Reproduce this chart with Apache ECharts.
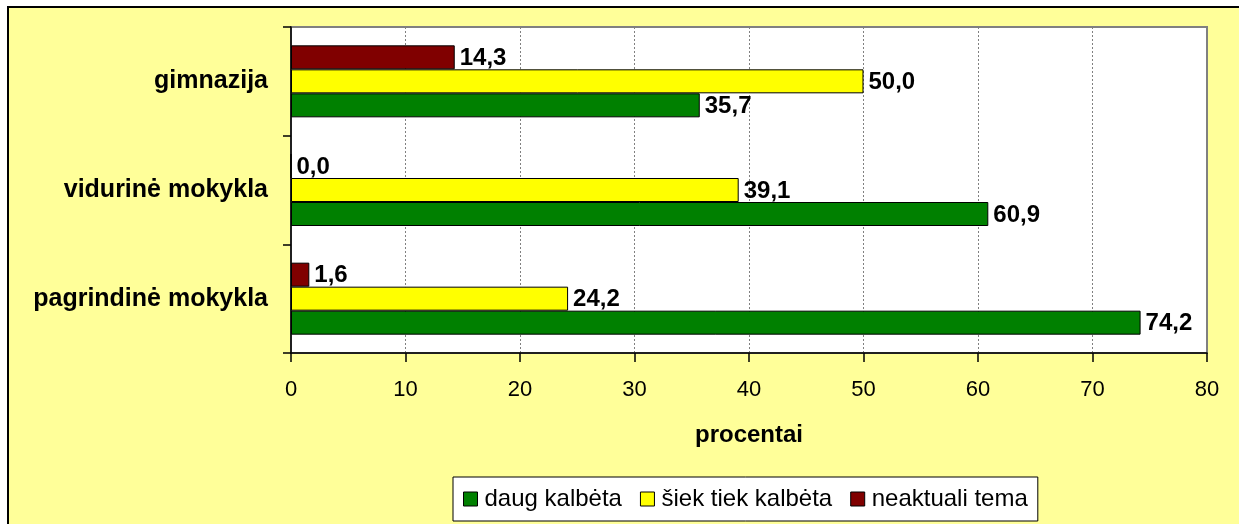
<!DOCTYPE html>
<html lang="lt">
<head>
    <meta charset="UTF-8">
    <title>procentai</title>
    <style>
        html, body { margin: 0; padding: 0; background: #fff; }
        #frame { position: absolute; left: 7px; top: 6px; width: 1250px; height: 540px;
                 border: 2px solid #000; background: #FFFF99; }
        #main { position: absolute; left: 0; top: 0; width: 1239px; height: 524px; }
    </style>
</head>
<body>
    <div id="frame"></div>
    <div id="main"></div>
    <script src="https://cdn.jsdelivr.net/npm/echarts@6/dist/echarts.min.js"></script>
    <script>
        // kategorijos (is apacios i virsu)
        var categories = ['pagrindinė mokykla', 'vidurinė mokykla', 'gimnazija'];
        var daugKalbeta = [74.2, 60.9, 35.7];
        var siekTiekKalbeta = [24.2, 39.1, 50.0];
        var neaktualiTema = [1.6, 0.0, 14.3];
        var xTicks = [0, 10, 20, 30, 40, 50, 60, 70, 80];

        var font = 'Arial, "Liberation Sans", sans-serif';

        function barLabel() {
            return {
                show: true,
                position: 'right',
                distance: 5,
                offset: [0, 1],
                color: '#000',
                fontFamily: font,
                fontWeight: 'bold',
                fontSize: 24,
                formatter: function (p) {
                    return p.value.toFixed(1).replace('.', ',');
                }
            };
        }

        var myChart = echarts.init(document.getElementById('main'));

        var option = {
            backgroundColor: 'transparent',
            animation: false,
            grid: {
                left: 291,
                top: 27,
                right: 32,
                bottom: 171,
                show: true,
                backgroundColor: '#fff',
                borderColor: '#808080',
                borderWidth: 2
            },
            legend: {
                left: 453,
                top: 477,
                orient: 'horizontal',
                backgroundColor: '#fff',
                borderColor: '#000',
                borderWidth: 1,
                borderRadius: 0,
                padding: [10, 10, 10, 10],
                itemGap: 18,
                itemWidth: 14,
                itemHeight: 14,
                itemStyle: { borderColor: '#000', borderWidth: 1 },
                textStyle: { fontFamily: font, fontSize: 24, color: '#000', padding: [0, 0, 0, 2] },
                data: [
                    { name: 'daug kalbėta', icon: 'rect' },
                    { name: 'šiek tiek kalbėta', icon: 'rect' },
                    { name: 'neaktuali tema', icon: 'rect' }
                ]
            },
            xAxis: {
                type: 'value',
                min: xTicks[0],
                max: xTicks[xTicks.length - 1],
                interval: 10,
                name: 'procentai',
                nameLocation: 'middle',
                nameGap: 70,
                nameTextStyle: { fontFamily: font, fontSize: 24, fontWeight: 'bold', color: '#000' },
                axisLine: { show: true, lineStyle: { color: '#000', width: 1.5 } },
                axisTick: { show: true, length: 9, lineStyle: { color: '#000', width: 1.5 } },
                axisLabel: { fontFamily: font, fontSize: 22, color: '#000', margin: 26 },
                splitLine: { show: true, lineStyle: { color: '#808080', type: [2, 2], width: 1 } }
            },
            yAxis: {
                type: 'category',
                data: categories,
                axisLine: { show: true, lineStyle: { color: '#000', width: 1.5 } },
                axisTick: { show: true, length: 8, lineStyle: { color: '#000', width: 1.5 } },
                axisLabel: { fontFamily: font, fontSize: 25, fontWeight: 'bold', color: '#000', margin: 23 },
                splitLine: { show: false }
            },
            series: [
                {
                    name: 'neaktuali tema',
                    type: 'bar',
                    data: neaktualiTema,
                    barWidth: 24,
                    barGap: '0%',
                    itemStyle: { color: '#800000', borderColor: '#000', borderWidth: 1 },
                    label: barLabel()
                },
                {
                    name: 'šiek tiek kalbėta',
                    type: 'bar',
                    data: siekTiekKalbeta,
                    barWidth: 24,
                    barGap: '0%',
                    itemStyle: { color: '#FFFF00', borderColor: '#000', borderWidth: 1 },
                    label: barLabel()
                },
                {
                    name: 'daug kalbėta',
                    type: 'bar',
                    data: daugKalbeta,
                    barWidth: 24,
                    barGap: '0%',
                    itemStyle: { color: '#008000', borderColor: '#000', borderWidth: 1 },
                    label: barLabel()
                }
            ]
        };

        myChart.setOption(option);
    </script>
</body>
</html>
